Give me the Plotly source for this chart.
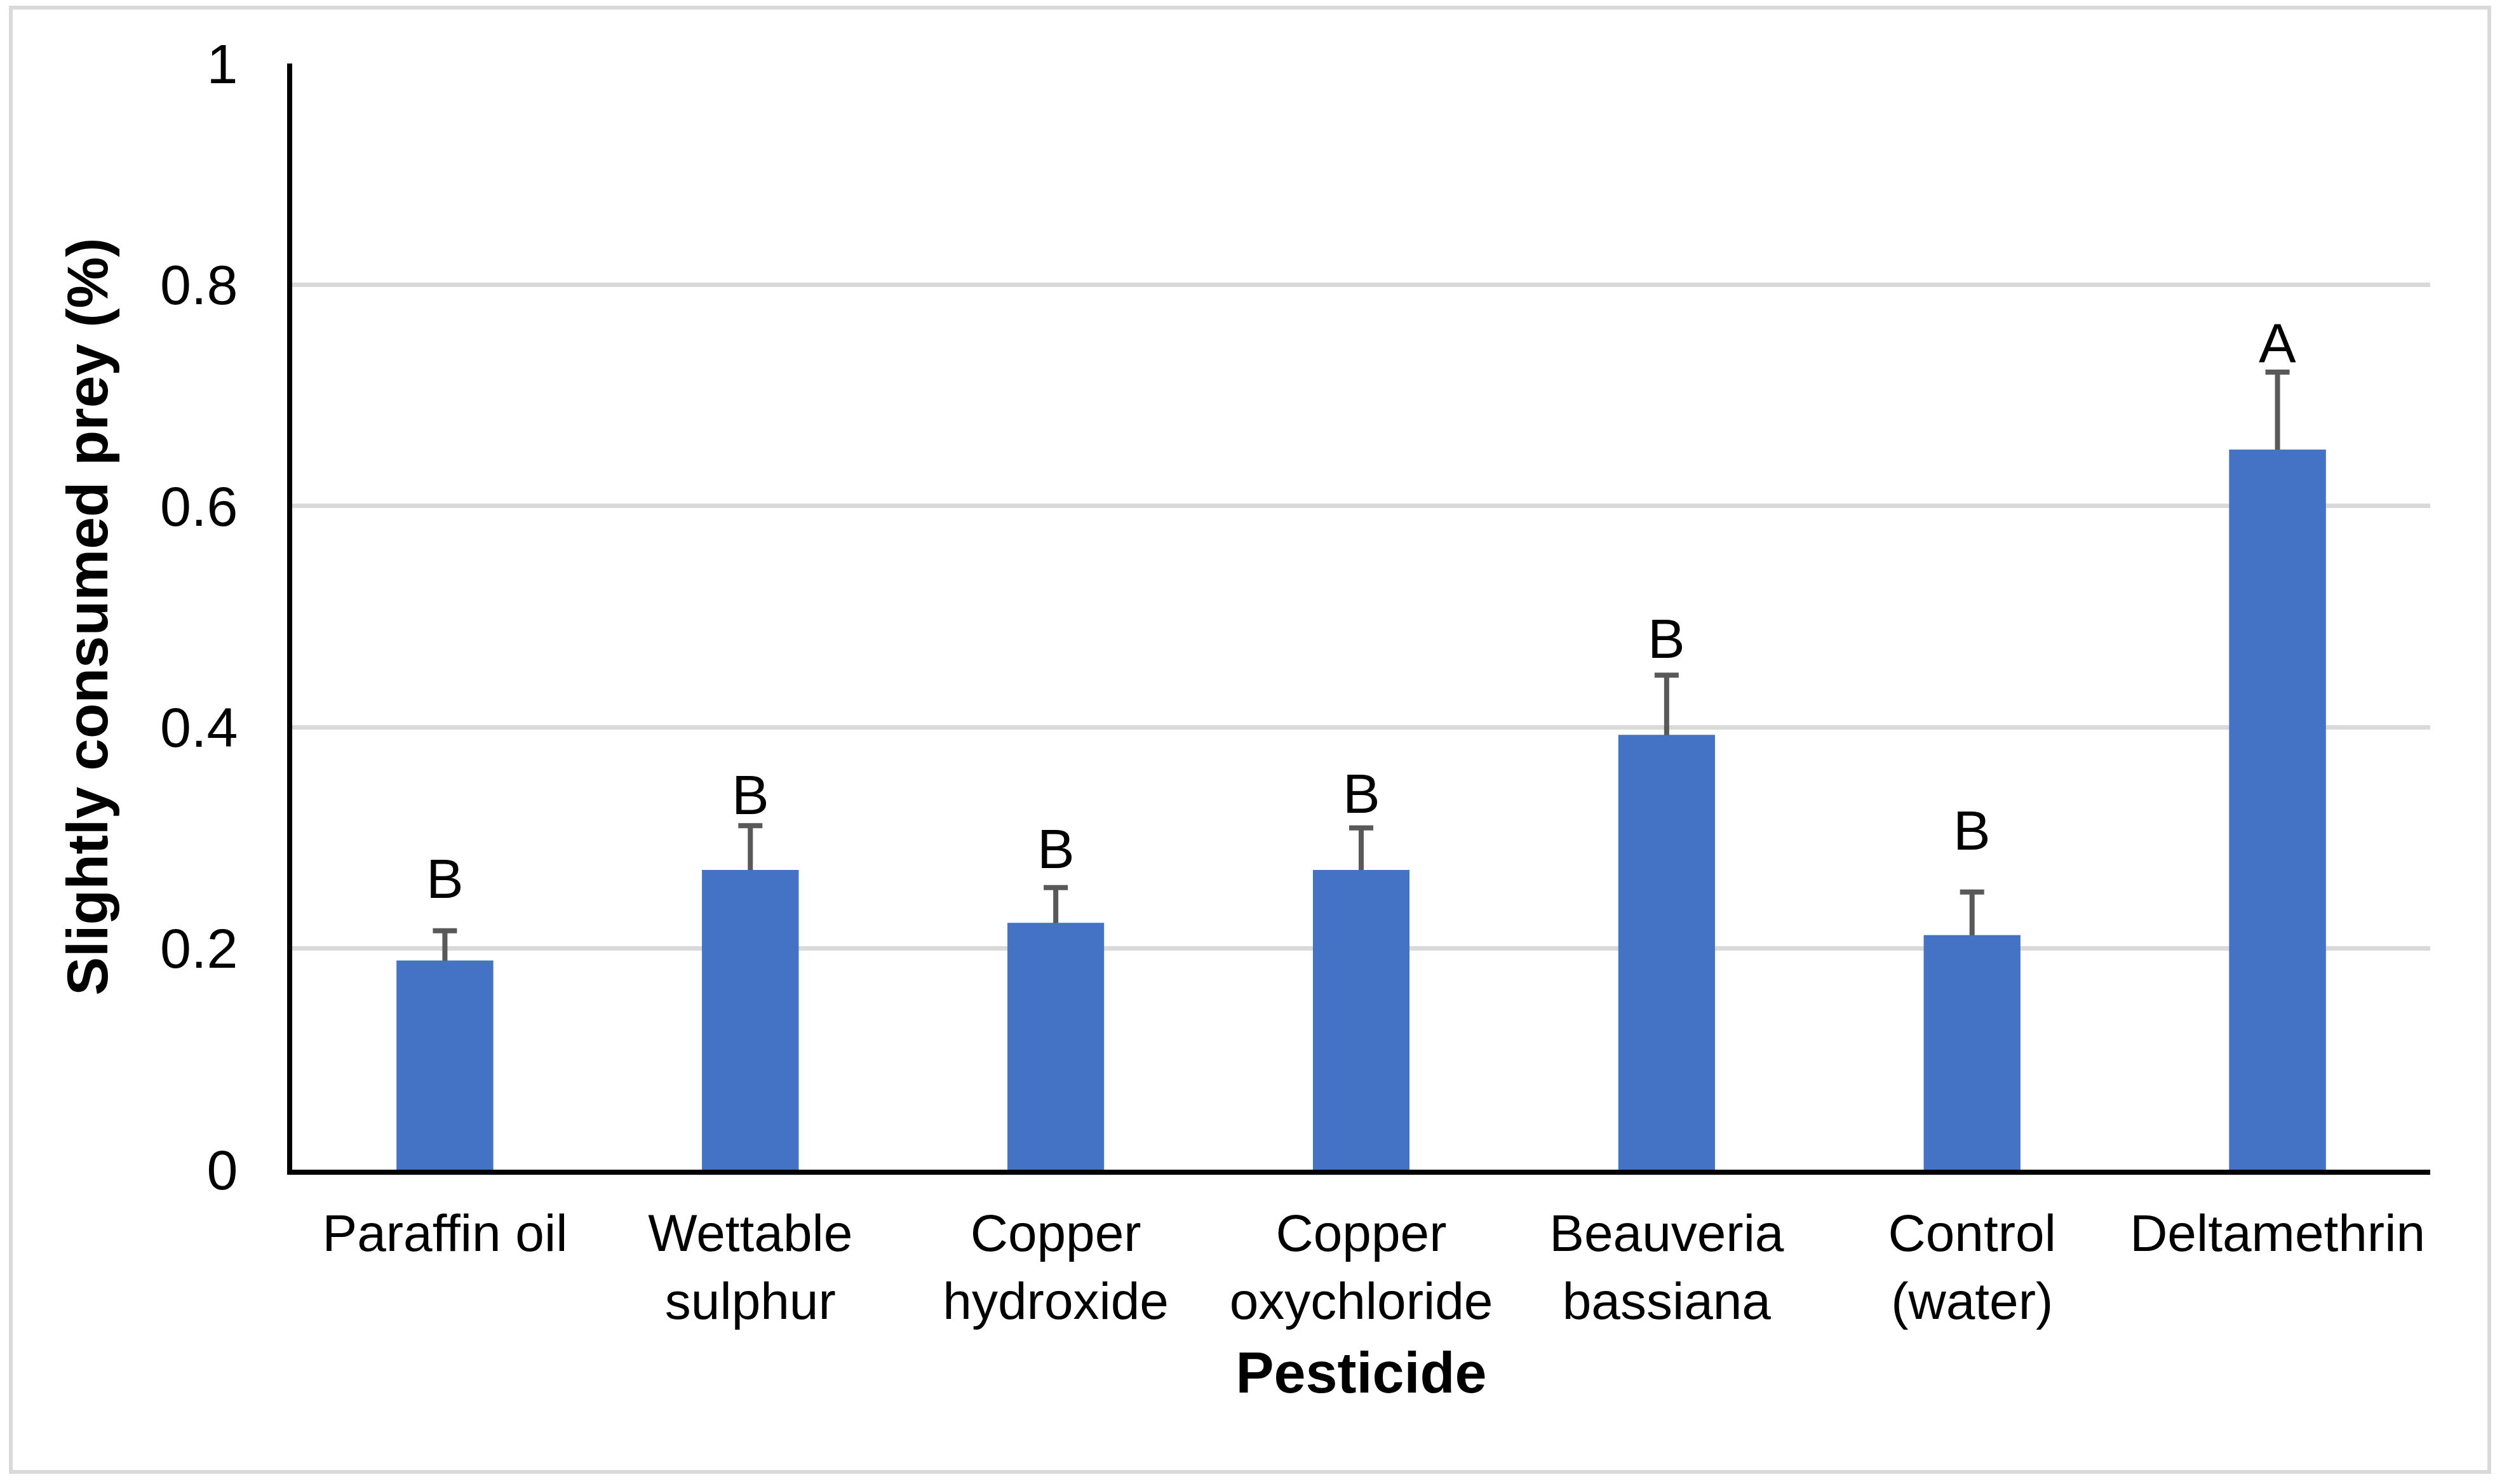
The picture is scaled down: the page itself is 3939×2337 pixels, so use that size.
import plotly.graph_objects as go

categories = ["Paraffin oil", "Wettable<br>sulphur", "Copper<br>hydroxide", "Copper<br>oxychloride",
              "Beauveria<br>bassiana", "Control<br>(water)", "Deltamethrin"]
means = [0.189, 0.271, 0.223, 0.271, 0.393, 0.212, 0.651]
errors = [0.027, 0.040, 0.032, 0.038, 0.054, 0.039, 0.070]
letters = ["B", "B", "B", "B", "B", "B", "A"]
letter_y = [0.263, 0.339, 0.290, 0.340, 0.480, 0.307, 0.747]
y_ticks = [0, 0.2, 0.4, 0.6, 0.8, 1]
y_ticktext = ["0", "0.2", "0.4", "0.6", "0.8", "1"]

# page body has an 8px margin; work in figure pixels = screen pixels - 8
OFF = 8
W, H = 3939 - 2 * OFF, 2337 - 2 * OFF
L = 460 - OFF
RIGHT = 3826 - OFF
T = 100 - OFF
BOTTOM = 1842 - OFF
R, B = W - RIGHT, H - BOTTOM
pw, ph = W - L - R, H - T - B

def px_to_paper_x(px):
    return (px - OFF - L) / pw

def px_to_paper_y(py):
    return (BOTTOM - (py - OFF)) / ph

FONT = "Liberation Sans, Arial, sans-serif"
BAR_COLOR = "#4472C4"

fig = go.Figure()
# bars with upper error bars (lower end of the whisker tucked inside the bar)
fig.add_trace(go.Bar(
    x=categories, y=means,
    marker=dict(color=BAR_COLOR, line=dict(width=0)),
    width=0.316,
    error_y=dict(type="data", array=errors, arrayminus=[0.02] * len(errors), symmetric=False,
                 color="#595959", thickness=8, width=19),
    showlegend=False,
))
# same bars drawn again on top so only the upper whisker is visible
fig.add_trace(go.Bar(
    x=categories, y=means,
    marker=dict(color=BAR_COLOR, line=dict(width=0)),
    width=0.316, showlegend=False, hoverinfo="skip",
))

for c, t, yy in zip(categories, letters, letter_y):
    fig.add_annotation(x=c, y=yy, text=t, showarrow=False, xref="x", yref="y",
                       yanchor="middle", font=dict(family=FONT, size=88, color="black"))

fig.add_shape(type="rect", xref="paper", yref="paper",
              x0=px_to_paper_x(17), x1=px_to_paper_x(3919),
              y0=px_to_paper_y(2318), y1=px_to_paper_y(12),
              line=dict(color="#D9D9D9", width=6), layer="below")

fig.update_layout(
    width=W, height=H,
    margin=dict(l=L, r=R, t=T, b=B, autoexpand=False),
    paper_bgcolor="white", plot_bgcolor="white",
    font=dict(family=FONT, color="black"),
    barmode="overlay",
    xaxis=dict(
        range=[-0.5, 6.5], showline=True, linecolor="black", linewidth=8,
        showgrid=False, ticks="", tickfont=dict(family=FONT, size=82, color="black"),
        ticklabelstandoff=22,
        title=dict(text="<b>Pesticide</b>", font=dict(family=FONT, size=90, color="black"), standoff=40),
    ),
    yaxis=dict(
        range=[0, 1], tickvals=y_ticks, ticktext=y_ticktext, showline=True, linecolor="black",
        linewidth=8, showgrid=True, gridcolor="#D9D9D9", gridwidth=7, zeroline=False, ticks="",
        tickfont=dict(family=FONT, size=88, color="black"), ticklabelstandoff=60,
        title=dict(text="<b>Slightly consumed prey (%)</b>", font=dict(family=FONT, size=91, color="black"),
                   standoff=55),
    ),
)

fig.write_html("out.html")
